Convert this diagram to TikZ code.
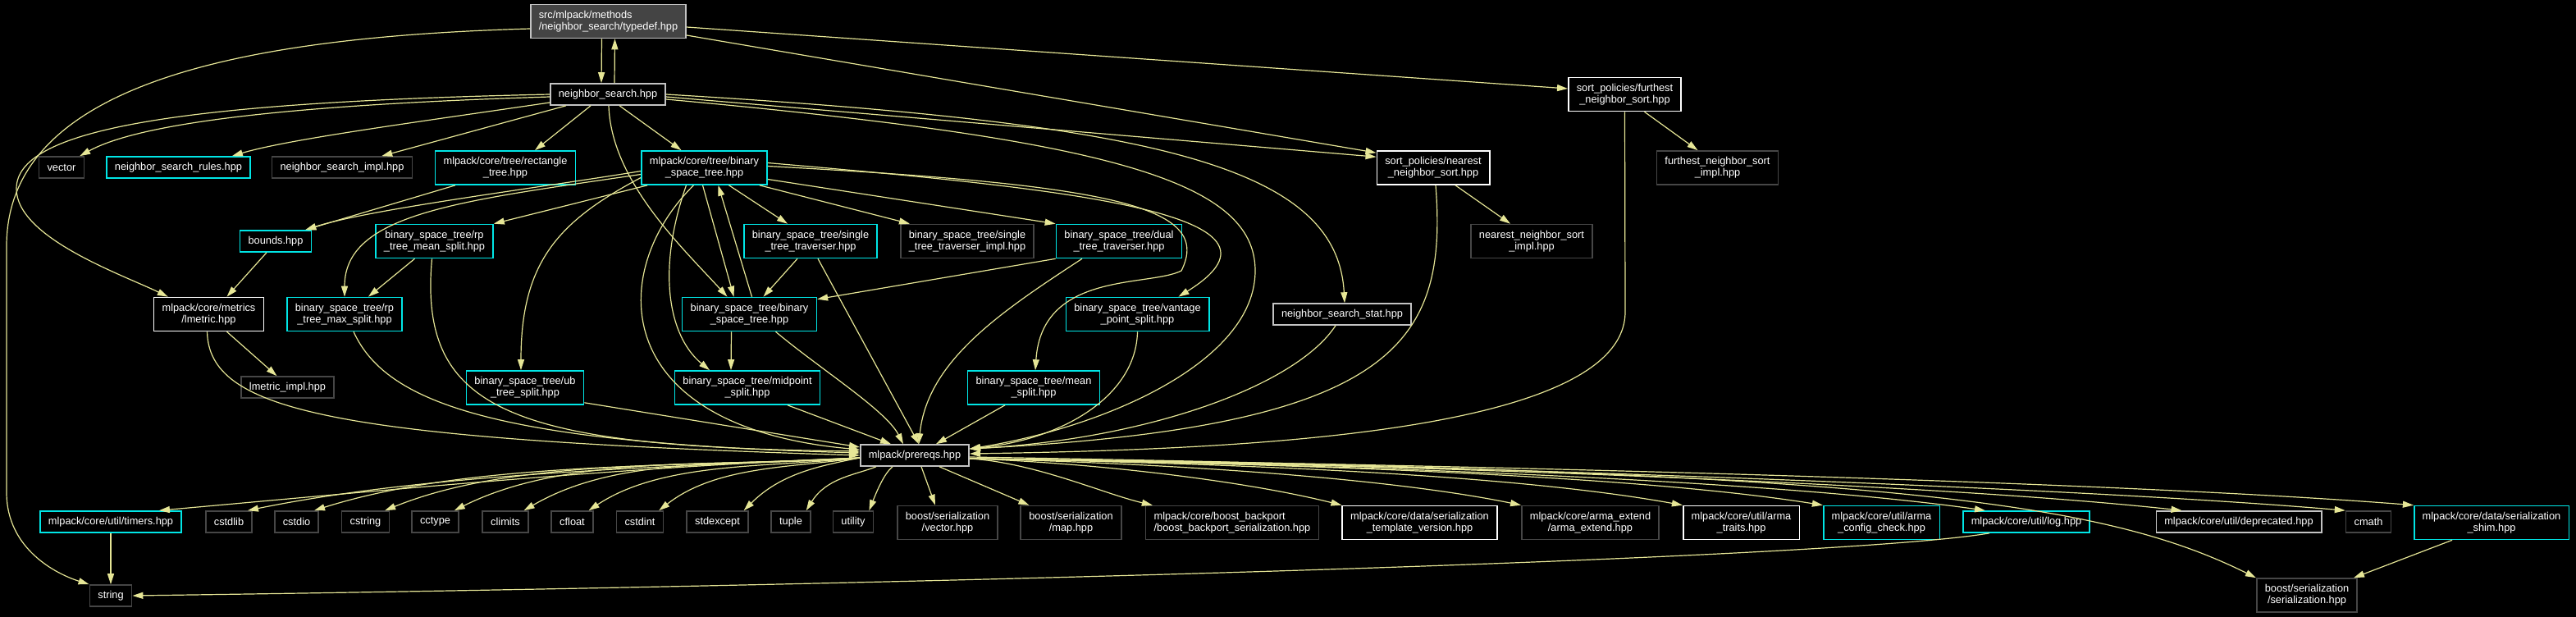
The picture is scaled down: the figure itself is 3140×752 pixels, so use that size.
\documentclass[tikz,border=0pt]{standalone}
\usepackage{fontspec}
\setmainfont{Liberation Sans}
\usepackage{tikz}
\usetikzlibrary{arrows.meta}

\definecolor{edgeyel}{RGB}{230,230,150}
\definecolor{boxcyan}{RGB}{0,230,230}
\definecolor{boxgray}{RGB}{70,70,70}
\definecolor{boxlight}{RGB}{195,195,195}
\definecolor{hdrfill}{RGB}{68,68,68}

\tikzset{
  file/.style={draw=white, fill=black, text=white, line width=1.6pt, inner xsep=10pt, inner ysep=3pt,
    minimum height=26pt, align=center, font=\fontsize{12.8}{14}\selectfont},
  two/.style={minimum height=41pt},
  doc/.style={file, draw=boxcyan},
  sys/.style={file, draw=boxgray},
  lit/.style={file, draw=boxlight},
  inc/.style={draw=edgeyel, line width=1.2pt, -{Triangle[length=13pt,width=8pt]}},
}

\begin{document}
\begin{tikzpicture}[x=1pt, y=-1pt]
  \fill[black] (0,0) rectangle (3140,752);
  \useasboundingbox (0,0) rectangle (3140,752);

  % files
  \node[lit, fill=hdrfill, two, align=left] (td) at (741.5,26) {src/mlpack/methods\\/neighbor\_search/typedef.hpp};
  \node[lit] (ns) at (741,115) {neighbor\_search.hpp};
  \node[file, two] (fur) at (1980.5,115) {sort\_policies/furthest\\\_neighbor\_sort.hpp};

  \node[sys] (vec) at (75,204) {vector};
  \node[doc] (rules) at (217.5,204) {neighbor\_search\_rules.hpp};
  \node[sys] (impl) at (417,204) {neighbor\_search\_impl.hpp};
  \node[doc, two] (rect) at (616,204.5) {mlpack/core/tree/rectangle\\\_tree.hpp};
  \node[doc, two] (cbst) at (858.5,204.5) {mlpack/core/tree/binary\\\_space\_tree.hpp};
  \node[file, two] (near) at (1747,204.5) {sort\_policies/nearest\\\_neighbor\_sort.hpp};
  \node[sys, two] (furimpl) at (2093.5,204.5) {furthest\_neighbor\_sort\\\_impl.hpp};

  \node[doc] (bnd) at (336,294) {bounds.hpp};
  \node[doc, two] (rpmean) at (529.5,294) {binary\_space\_tree/rp\\\_tree\_mean\_split.hpp};
  \node[doc, two] (stt) at (988,294) {binary\_space\_tree/single\\\_tree\_traverser.hpp};
  \node[sys, two] (sttimpl) at (1179,294) {binary\_space\_tree/single\\\_tree\_traverser\_impl.hpp};
  \node[doc, two] (dtt) at (1364,294) {binary\_space\_tree/dual\\\_tree\_traverser.hpp};
  \node[sys, two] (nearimpl) at (1867,294) {nearest\_neighbor\_sort\\\_impl.hpp};

  \node[file, two] (lm) at (254.5,383) {mlpack/core/metrics\\/lmetric.hpp};
  \node[doc, two] (rpmax) at (420,383) {binary\_space\_tree/rp\\\_tree\_max\_split.hpp};
  \node[doc, two] (bst) at (913.5,383) {binary\_space\_tree/binary\\\_space\_tree.hpp};
  \node[doc, two] (vps) at (1386.5,383) {binary\_space\_tree/vantage\\\_point\_split.hpp};
  \node[lit] (stat) at (1636,383) {neighbor\_search\_stat.hpp};

  \node[sys] (lmimpl) at (350.5,472) {lmetric\_impl.hpp};
  \node[doc, two] (ub) at (640,472.5) {binary\_space\_tree/ub\\\_tree\_split.hpp};
  \node[doc, two] (mid) at (911,472.5) {binary\_space\_tree/midpoint\\\_split.hpp};
  \node[doc, two] (mean) at (1260,472.5) {binary\_space\_tree/mean\\\_split.hpp};

  \node[lit] (pq) at (1115,555) {mlpack/prereqs.hpp};

  \node[doc] (tim) at (135,636) {mlpack/core/util/timers.hpp};
  \foreach \n/\x in {cstdlib/279,cstdio/361.5,cstring/445.5,cctype/530.5,climits/616,cfloat/697.5,cstdint/780,stdexcept/874.5,tuple/964,utility/1040}
    \node[sys] (\n) at (\x,636) {\n};
  \node[sys, two] (bvec) at (1155,637) {boost/serialization\\/vector.hpp};
  \node[sys, two] (bmap) at (1305.5,637) {boost/serialization\\/map.hpp};
  \node[sys, two, align=left] (bbp) at (1502,637) {mlpack/core/boost\_backport\\/boost\_backport\_serialization.hpp};
  \node[file, two] (stv) at (1730.5,637) {mlpack/core/data/serialization\\\_template\_version.hpp};
  \node[sys, two] (aext) at (1938.5,637) {mlpack/core/arma\_extend\\/arma\_extend.hpp};
  \node[file, two] (atr) at (2122.5,637) {mlpack/core/util/arma\\\_traits.hpp};
  \node[doc, two] (acc) at (2293.5,637) {mlpack/core/util/arma\\\_config\_check.hpp};
  \node[doc] (log) at (2470,636) {mlpack/core/util/log.hpp};
  \node[lit] (depr) at (2729,636) {mlpack/core/util/deprecated.hpp};
  \node[sys] (cmath) at (2887,636) {cmath};
  \node[doc, two] (shim) at (3037,637) {mlpack/core/data/serialization\\\_shim.hpp};

  \node[sys] (str) at (135,726) {string};
  \node[sys, two] (bser) at (2812,725.5) {boost/serialization\\/serialization.hpp};

  % typedef.hpp
  \draw[inc] ([xshift=-8]td.south) -- ([xshift=-8]ns.north);
  \draw[inc] ([xshift=8]ns.north) -- ([xshift=8]td.south);
  \draw[inc] ([yshift=-7]td.east) -- ([yshift=7]fur.west);
  \draw[inc] ([yshift=-17]td.east) -- ([yshift=-3]near.north west);
  \draw[inc] ([yshift=-9]td.west) .. controls (300,45) and (8,100) .. (8,300) -- (8,600)
    .. controls (8,670) and (70,700) .. (str.north west);

  % neighbor_search.hpp
  \draw[inc] ([yshift=-3]ns.west) .. controls (350,128) and (170,150) .. ([xshift=-6]vec.north east);
  \draw[inc] ([yshift=-10]ns.west) .. controls (500,150) and (350,170) .. ([xshift=-23]rules.north east);
  \draw[inc] ([xshift=20]ns.south west) -- ([xshift=-38]impl.north east);
  \draw[inc] ([xshift=50]ns.south west) -- ([xshift=36]rect.north);
  \draw[inc] ([xshift=85]ns.south west) -- ([xshift=-28]cbst.north);
  \draw[inc] ([xshift=1]ns.south) .. controls (745,220) and (830,300) .. ([xshift=-27]bst.north);
  \draw[inc] (ns.west) .. controls (200,125) and (20,160) .. (20,230)
    .. controls (20,290) and (150,335) .. ([xshift=18]lm.north west);
  \draw[inc] ([yshift=-3]ns.east) -- ([yshift=-8]near.north west);
  \draw[inc] (ns.east) .. controls (1400,150) and (1630,200) .. ([xshift=3]stat.north);
  \draw[inc] ([yshift=-6]ns.east) .. controls (1350,170) and (1530,220) .. (1530,330)
    .. controls (1530,440) and (1350,520) .. ([yshift=8]pq.east);

  % sort policies
  \draw[inc] ([xshift=24]fur.south) -- ([xshift=-24]furimpl.north);
  \draw[inc] (fur.south) -- (1981,380) .. controls (1981,530) and (1500,548) .. ([yshift=2]pq.east);
  \draw[inc] ([xshift=27]near.south) -- ([xshift=-26]nearimpl.north);
  \draw[inc] ([xshift=3]near.south) .. controls (1765,420) and (1700,520) .. ([yshift=8]pq.east);

  % tree/binary_space_tree.hpp
  \draw[inc] ([xshift=-61]rect.south) -- ([xshift=-8]bnd.north east);
  \draw[inc] ([yshift=-4]cbst.west) .. controls (650,230) and (450,255) .. ([xshift=-8]bnd.north east);
  \draw[inc] ([yshift=-8]cbst.west) .. controls (560,245) and (420,260) .. (rpmax.north);
  \draw[inc] ([xshift=8]cbst.south west) -- (rpmean.north east);
  \draw[inc] ([yshift=-12]cbst.west) .. controls (680,270) and (635,320) .. ([xshift=-5]ub.north);
  \draw[inc] ([xshift=-22]cbst.south) .. controls (800,330) and (815,410) .. ([xshift=-46]mid.north);
  \draw[inc] ([xshift=-13]cbst.south) .. controls (740,330) and (740,520) .. ([yshift=7]pq.west);
  \draw[inc] ([xshift=-2]cbst.south) -- ([xshift=-19]bst.north);
  \draw[inc] ([xshift=3]bst.north) -- ([xshift=17]cbst.south);
  \draw[inc] ([xshift=30]cbst.south) -- ([xshift=-28]stt.north);
  \draw[inc] ([xshift=-10]cbst.south east) -- ([xshift=-70]sttimpl.north);
  \draw[inc] ([yshift=-14]cbst.east) -- (dtt.north west);
  \draw[inc] ([yshift=6]cbst.east) .. controls (1300,230) and (1600,260) .. ([xshift=50]vps.north);
  \draw[inc] ([yshift=2]cbst.east) .. controls (1350,225) and (1480,250) .. (1440,330)
    .. controls (1400,350) and (1270,330) .. ([xshift=2]mean.north);

  % split and traverser files
  \draw[inc] ([xshift=-11]bnd.south) -- ([xshift=22]lm.north);
  \draw[inc] ([xshift=-24]rpmean.south) -- ([xshift=29]rpmax.north);
  \draw[inc] ([xshift=-3]rpmean.south) .. controls (510,500) and (620,545) .. ([yshift=5]pq.west);
  \draw[inc] ([xshift=11]rpmax.south) .. controls (470,490) and (600,540) .. ([yshift=3]pq.west);
  \draw[inc] ([xshift=22]lm.south) -- ([xshift=-13]lmimpl.north);
  \draw[inc] ([xshift=-2]lm.south) .. controls (255,500) and (400,535) .. (pq.west);
  \draw[inc] ([yshift=3]ub.south east) -- ([yshift=10]pq.west);
  \draw[inc] ([xshift=49]mid.south) -- ([xshift=-29]pq.north);
  \draw[inc] ([xshift=-22]bst.south) -- ([xshift=-20]mid.north);
  \draw[inc] ([xshift=32]bst.south) .. controls (1000,450) and (1080,500) .. ([xshift=-14]pq.north);
  \draw[inc] ([xshift=-16]stt.south) -- ([xshift=17]bst.north);
  \draw[inc] ([xshift=9]stt.south) -- ([xshift=5]pq.north);
  \draw[inc] (dtt.south west) -- ([yshift=-3]bst.north east);
  \draw[inc] ([xshift=-45]dtt.south) .. controls (1220,380) and (1130,440) .. ([xshift=5]pq.north);
  \draw[inc] ([xshift=-35]mean.south) -- ([xshift=26]pq.north);
  \draw[inc] (vps.south) .. controls (1385,480) and (1300,535) .. ([yshift=8]pq.east);
  \draw[inc] ([xshift=-8]stat.south) .. controls (1580,470) and (1400,535) .. ([yshift=8]pq.east);

  % prereqs.hpp
  \coordinate (pql) at ([yshift=-3]pq.west);
  \coordinate (pqa) at ([xshift=20]pq.south west);
  \coordinate (pqb) at ([xshift=40]pq.south west);
  \coordinate (pqr) at ([yshift=-4]pq.east);
  \draw[inc] (pql) .. controls +(-300,12) and +(280,-25) .. ([xshift=-28]tim.north east);
  \foreach \n/\s/\a/\b/\c/\d in {cstdlib/pql/-260/12/220/-45, cstdio/pql/-230/12/190/-60,
      cstring/pql/-200/12/160/-65, cctype/pql/-170/12/140/-70, climits/pql/-140/12/120/-70,
      cfloat/pql/-110/12/90/-60, cstdint/pql/-80/12/70/-55, stdexcept/pql/-50/10/45/-45,
      tuple/pqa/-25/10/25/-40, utility/pqb/-10/8/10/-25}
    \draw[inc] (\s) .. controls +(\a,\b) and +(\c,\d) .. ([xshift=-6]\n.north east);
  \draw[inc] ([xshift=8]pq.south) -- ([xshift=-15]bvec.north);
  \draw[inc] ([xshift=30]pq.south) -- ([xshift=11]bmap.north west);
  \foreach \n/\x/\a/\c/\d in {bbp/9/80/-60/-14, stv/0/150/-120/-30, aext/0/220/-170/-35,
      atr/0/280/-220/-40, acc/0/320/-250/-40, log/28/380/-280/-40, depr/32/450/-320/-35,
      cmath/0/500/-350/-30, shim/0/520/-380/-30}
    \draw[inc] (pqr) .. controls +(\a,5) and +(\c,\d) .. ([xshift=\x]\n.north west);
  \draw[inc] ([yshift=-2]pq.east) .. controls (2300,575) and (2560,610) .. (bser.north west);

  % leaves
  \draw[inc] (tim.south) -- (str.north);
  \draw[inc] ([xshift=-45]log.south) .. controls (2250,680) and (1200,712) .. (str.east);
  \draw[inc] ([xshift=-48]shim.south) -- ([xshift=57]bser.north);
\end{tikzpicture}
\end{document}
